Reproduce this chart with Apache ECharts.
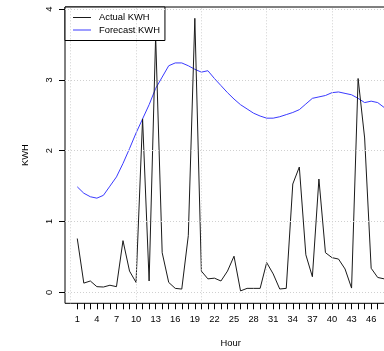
<!DOCTYPE html>
<html>
<head>
<meta charset="utf-8">
<script src="https://cdn.jsdelivr.net/npm/echarts@6/dist/echarts.min.js"></script>
<style>html,body{margin:0;padding:0;background:#fff}#c{width:384px;height:351px}</style>
</head>
<body>
<div id="c"></div>
<script>
var hours = [];
for (var i = 1; i <= 48; i++) hours.push(i);
var actualKWH = [0.76,0.13,0.16,0.08,0.075,0.10,0.08,0.73,0.30,0.14,2.45,0.16,3.62,0.56,0.14,0.056,0.046,0.80,3.87,0.30,
  0.19,0.20,0.16,0.30,0.51,0.02,0.056,0.056,0.056,0.42,0.26,0.047,0.056,1.53,1.77,0.53,0.22,1.60,0.56,0.49,
  0.47,0.33,0.06,3.02,2.18,0.34,0.21,0.19];
var forecastKWH = [1.49,1.40,1.35,1.33,1.37,1.50,1.63,1.82,2.03,2.25,2.45,2.65,2.88,3.04,3.20,3.24,3.24,3.20,3.15,3.11,
  3.13,3.02,2.92,2.82,2.73,2.65,2.59,2.53,2.49,2.46,2.46,2.48,2.51,2.54,2.58,2.66,2.74,2.76,2.78,2.82,
  2.83,2.81,2.79,2.74,2.68,2.70,2.68,2.61];
var xTickLabels = [1,4,7,10,13,16,19,22,25,28,31,34,37,40,43,46];
var yTickLabels = [0,1,2,3,4];
var xGridLines = [0,10,20,30,40];
var yGridLines = [0,1,2,3,4];

function pairs(vals){ return vals.map(function(v,i){ return [hours[i], v]; }); }

var font = 'Liberation Sans, Arial, Helvetica, sans-serif';
var chart = echarts.init(document.getElementById('c'), null, {renderer:'canvas'});
var gridMarks = xGridLines.map(function(v){return {xAxis:v};}).concat(yGridLines.map(function(v){return {yAxis:v};}));
chart.setOption({
  animation:false,
  backgroundColor:'#fff',
  textStyle:{fontFamily:font},
  grid:{left:65, top:7, width:331.5, height:296.3, show:true, borderColor:'#000', borderWidth:1, backgroundColor:'transparent', containLabel:false, outerBoundsMode:'none'},
  legend:{
    data:['Actual KWH','Forecast KWH'],
    left:65, top:7, orient:'vertical',
    backgroundColor:'#fff', borderColor:'#000', borderWidth:1, borderRadius:0,
    padding:[5,5,5,8], itemWidth:18, itemHeight:1, itemGap:1.5, icon:'rect',
    textStyle:{fontSize:9.4, color:'#000', fontFamily:font, padding:[0,0,0,3], lineHeight:11},
    selectedMode:false
  },
  xAxis:{
    type:'value', min:-0.88, max:49.88,
    name:'Hour', nameLocation:'middle', nameGap:36,
    nameTextStyle:{fontSize:9.4, color:'#000', fontFamily:font},
    axisLine:{show:false, onZero:false},
    axisTick:{show:true, customValues:hours, length:6, lineStyle:{color:'#000', width:1}},
    axisLabel:{show:true, customValues:xTickLabels, margin:12, fontSize:9.3, color:'#000', fontFamily:font},
    splitLine:{show:false}
  },
  yAxis:{
    type:'value', min:-0.155, max:4.03,
    name:'KWH', nameLocation:'middle', nameGap:35, nameRotate:90,
    nameTextStyle:{fontSize:9.4, color:'#000', fontFamily:font},
    axisLine:{show:false, onZero:false},
    axisTick:{show:true, customValues:yTickLabels, length:6, lineStyle:{color:'#000', width:1}},
    axisLabel:{show:true, customValues:yTickLabels, rotate:90, margin:11, fontSize:9.3, color:'#000', fontFamily:font},
    splitLine:{show:false}
  },
  series:[
    {type:'line', data:pairs(forecastKWH), symbol:'none', z:1, silent:true,
     lineStyle:{opacity:0}, tooltip:{show:false},
     markLine:{silent:true, symbol:['none','none'], label:{show:false}, animation:false,
       lineStyle:{color:'#d0d0d0', type:[1,2], width:1}, emphasis:{disabled:true}, data:gridMarks}},
    {name:'Forecast KWH', type:'line', data:pairs(forecastKWH), symbol:'none', z:2,
     lineStyle:{color:'#3a3aff', width:1}, itemStyle:{color:'#3a3aff'}},
    {name:'Actual KWH', type:'line', data:pairs(actualKWH), symbol:'none', z:3,
     lineStyle:{color:'#1a1a1a', width:1}, itemStyle:{color:'#1a1a1a'}}
  ]
});
</script>
</body>
</html>
